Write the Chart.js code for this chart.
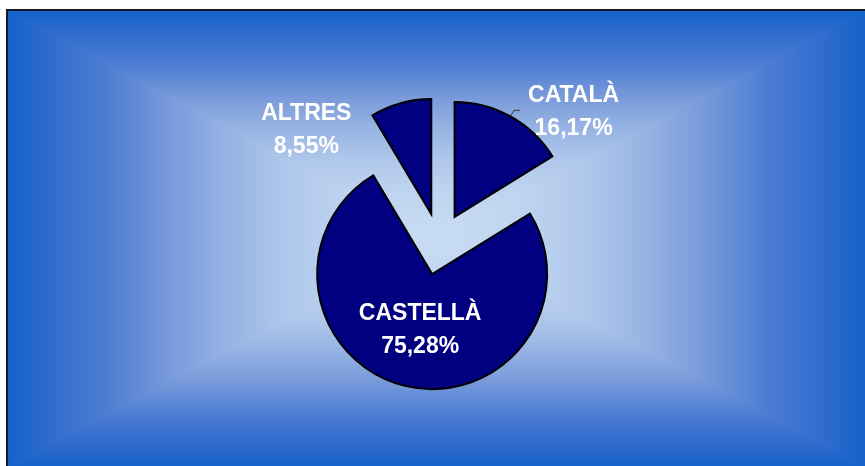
<!DOCTYPE html>
<html>
<head>
<meta charset="utf-8">
<script src="https://cdn.jsdelivr.net/npm/chart.js@4/dist/chart.umd.min.js"></script>
<style>
  html, body { margin: 0; padding: 0; background: #ffffff; }
  #wrap { width: 865px; height: 466px; position: relative; }
</style>
</head>
<body>
<div id="wrap"><canvas id="c"></canvas></div>
<script>
// ---- data ----
const categories = ['CATALÀ', 'CASTELLÀ', 'ALTRES'];
const shares = [16.17, 75.28, 8.55];

// ---- style / layout constants ----
const SLICE_COLOR = '#000080';
const EXPLODE = 31;          // px each slice is pulled out
const PIE_RADIUS = 115;
const LABEL_FONT = 'bold 23px "Liberation Sans", Arial, sans-serif';
const LINE_GAP = 33;
const CAP_H = 16.5;
// label block centre relative to its (exploded) slice centre
const LABEL_SHIFT = [[119, -107], [-12, 54], [-125, -86]];
const LEADER = [true, false, false];
const GRAD_STOPS = [
  [0.00, '#1363cb'],
  [0.08, '#2c69cd'],
  [0.23, '#4c7dd2'],
  [0.39, '#7c9cdb'],
  [0.50, '#93b1e2'],
  [0.65, '#afc7eb'],
  [0.80, '#bfd4f0'],
  [1.00, '#c8dcf2']
];

function pctText(v) { return v.toFixed(2).replace('.', ',') + '%'; }

const bgPlugin = {
  id: 'bgFrame',
  beforeDraw(chart) {
    const ctx = chart.ctx;
    const W = chart.width, H = chart.height;
    ctx.save();
    ctx.fillStyle = '#ffffff';
    ctx.fillRect(0, 0, W, H);
    const x0 = 8, y0 = 11, x1 = W + 1, y1 = H + 1;
    const cx = (x0 + x1) / 2, cy = (y0 + y1) / 2;
    const tris = [
      { p: [[x0, y0], [x1, y0], [cx, cy]], g: [cx, y0, cx, cy] },
      { p: [[x1, y0], [x1, y1], [cx, cy]], g: [x1, cy, cx, cy] },
      { p: [[x1, y1], [x0, y1], [cx, cy]], g: [cx, y1, cx, cy] },
      { p: [[x0, y1], [x0, y0], [cx, cy]], g: [x0, cy, cx, cy] }
    ];
    tris.forEach(t => {
      const gr = ctx.createLinearGradient(t.g[0], t.g[1], t.g[2], t.g[3]);
      GRAD_STOPS.forEach(s => gr.addColorStop(s[0], s[1]));
      ctx.beginPath();
      ctx.moveTo(t.p[0][0], t.p[0][1]);
      ctx.lineTo(t.p[1][0], t.p[1][1]);
      ctx.lineTo(t.p[2][0], t.p[2][1]);
      ctx.closePath();
      ctx.fillStyle = gr;
      ctx.fill();
      ctx.strokeStyle = gr;
      ctx.lineWidth = 1;
      ctx.stroke();
    });
    ctx.strokeStyle = '#141822';
    ctx.lineWidth = 2;
    ctx.strokeRect(x0 - 1, y0 - 1, x1 - x0 + 4, y1 - y0 + 4);
    ctx.restore();
  }
};

const explodePlugin = {
  id: 'explode',
  beforeDatasetDraw(chart, args) {
    const ctx = chart.ctx;
    args.meta.data.forEach(arc => {
      const mid = (arc.startAngle + arc.endAngle) / 2;
      ctx.save();
      ctx.translate(Math.cos(mid) * EXPLODE, Math.sin(mid) * EXPLODE);
      arc.draw(ctx, chart.chartArea);
      ctx.restore();
    });
    return false;
  }
};

const labelPlugin = {
  id: 'sliceLabels',
  afterDatasetsDraw(chart) {
    const ctx = chart.ctx;
    const meta = chart.getDatasetMeta(0);
    ctx.save();
    meta.data.forEach((arc, i) => {
      const mid = (arc.startAngle + arc.endAngle) / 2;
      const sx = arc.x + Math.cos(mid) * EXPLODE;
      const sy = arc.y + Math.sin(mid) * EXPLODE;
      if (LEADER[i]) {
        const r = arc.outerRadius;
        const px = sx + Math.cos(mid) * r, py = sy + Math.sin(mid) * r;
        const qx = sx + Math.cos(mid) * (r + 7), qy = sy + Math.sin(mid) * (r + 7);
        ctx.beginPath();
        ctx.moveTo(px, py);
        ctx.lineTo(qx, qy);
        ctx.lineTo(qx + 6, qy);
        ctx.strokeStyle = '#3a3a3a';
        ctx.lineWidth = 1;
        ctx.stroke();
      }
      const cx = sx + LABEL_SHIFT[i][0];
      const cy = sy + LABEL_SHIFT[i][1];
      const b1 = cy - (LINE_GAP - CAP_H) / 2;
      ctx.font = LABEL_FONT;
      ctx.fillStyle = '#ffffff';
      ctx.textAlign = 'center';
      ctx.textBaseline = 'alphabetic';
      ctx.fillText(chart.data.labels[i], cx, b1);
      ctx.fillText(pctText(chart.data.datasets[0].data[i]), cx, b1 + LINE_GAP);
    });
    ctx.restore();
  }
};

new Chart(document.getElementById('c'), {
  type: 'pie',
  data: {
    labels: categories,
    datasets: [{
      data: shares,
      backgroundColor: SLICE_COLOR,
      borderColor: '#000000',
      borderWidth: 2,
      borderJoinStyle: 'miter',
      offset: 0,
      radius: PIE_RADIUS
    }]
  },
  options: {
    responsive: true,
    maintainAspectRatio: false,
    animation: false,
    rotation: 0,
    radius: PIE_RADIUS,
    events: [],
    layout: { padding: { left: 14, right: 0, top: 22, bottom: 0 } },
    plugins: { legend: { display: false }, tooltip: { enabled: false } }
  },
  plugins: [bgPlugin, explodePlugin, labelPlugin]
});
</script>
</body>
</html>
